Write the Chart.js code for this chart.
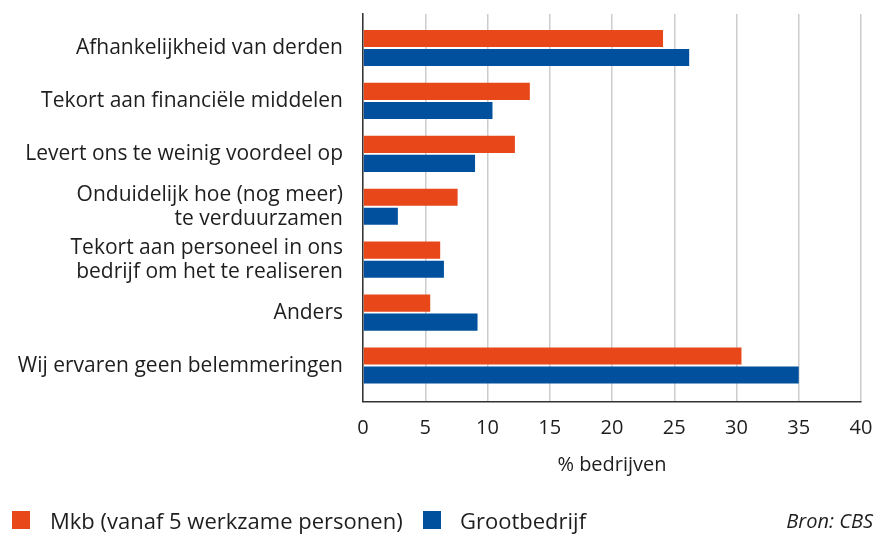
<!DOCTYPE html>
<html>
<head>
<meta charset="utf-8">
<script src="https://cdn.jsdelivr.net/npm/chart.js@4.4.1/dist/chart.umd.min.js"></script>
<style>
  html, body { margin: 0; padding: 0; background: #fff; }
  .wrap { position: relative; width: 877px; height: 534px; }
  .legend { position: absolute; left: 0; top: 0; width: 877px; height: 534px; pointer-events: none;
    font-family: "Open Sans", sans-serif; color: #1e1e1e; }
  .legend .box { position: absolute; top: 511px; width: 18px; height: 18px; }
  .legend .txt { position: absolute; top: 508.5px; font-size: 22px; line-height: 22px; white-space: nowrap; }
  .legend .src { position: absolute; right: 4px; top: 511px; font-size: 20px; line-height: 20px;
    font-style: italic; white-space: nowrap; }
</style>
</head>
<body>
<div class="wrap">
  <canvas id="myChart" width="877" height="534"></canvas>
  <div class="legend" id="legend"></div>
</div>
<script>
// categories (top to bottom)
const categories = [
  "Afhankelijkheid van derden",
  "Tekort aan financiële middelen",
  "Levert ons te weinig voordeel op",
  ["Onduidelijk hoe (nog meer)", "te verduurzamen"],
  ["Tekort aan personeel in ons", "bedrijf om het te realiseren"],
  "Anders",
  "Wij ervaren geen belemmeringen"
];

// % bedrijven
const mkbValues = [24.1, 13.4, 12.2, 7.6, 6.2, 5.4, 30.4];
const grootValues = [26.2, 10.4, 9.0, 2.8, 6.5, 9.2, 35.0];

const seriesNames = ["Mkb (vanaf 5 werkzame personen)", "Grootbedrijf"];
const seriesColors = ["#e8471a", "#00509e"];
const xTicks = [0, 5, 10, 15, 20, 25, 30, 35, 40];
const axisTitle = "% bedrijven";
const sourceText = "Bron: CBS";

const labelFont = "'Open Sans', 'Noto Sans', sans-serif";
const textColor = "#1e1e1e";

const ctx = document.getElementById("myChart");

const chart = new Chart(ctx, {
  type: "bar",
  data: {
    datasets: [mkbValues, grootValues].map((values, i) => ({
      label: seriesNames[i],
      data: values.map((v, j) => ({ x: v, y: j })),
      backgroundColor: seriesColors[i],
      categoryPercentage: 0.72,
      barPercentage: 0.9,
    })),
  },
  options: {
    responsive: false,
    animation: false,
    indexAxis: "y",
    layout: { padding: { top: 14, right: 16, left: 0, bottom: 56.5 } },
    plugins: {
      tooltip: { enabled: false },
      legend: { display: false },
    },
    scales: {
      x: {
        type: "linear",
        min: 0,
        max: 40,
        afterBuildTicks: (scale) => {
          scale.ticks = xTicks.map((v) => ({ value: v }));
        },
        afterFit: (scale) => {
          scale.height = 76;
          scale.paddingRight = 0;
        },
        grid: { color: "#cccccc", lineWidth: 1.5, drawTicks: false },
        border: { color: "#333333", width: 1.5 },
        ticks: {
          padding: 15,
          color: textColor,
          font: { family: labelFont, size: 20 },
        },
        title: {
          display: true,
          text: axisTitle,
          color: textColor,
          padding: { top: 0, bottom: 0 },
          font: { family: labelFont, size: 20 },
        },
      },
      y: {
        type: "linear",
        reverse: true,
        offset: false,
        min: -0.643,
        max: 6.68,
        afterBuildTicks: (scale) => {
          scale.ticks = categories.map((c, i) => ({ value: i }));
        },
        afterFit: (scale) => {
          scale.width = 363;
          scale.paddingTop = 0;
          scale.paddingBottom = 0;
        },
        grid: { display: false, drawTicks: false },
        border: { color: "#333333", width: 1.5 },
        ticks: {
          padding: 20,
          color: textColor,
          font: { family: labelFont, size: 21, lineHeight: 1.15 },
          callback: (value) => categories[value],
        },
      },
    },
  },
});

// legend below the chart, same colours as the datasets
const legendEl = document.getElementById("legend");
const legendPos = [{ box: 12, txt: 50 }, { box: 423, txt: 460 }];
chart.data.datasets.forEach((ds, i) => {
  const box = document.createElement("div");
  box.className = "box";
  box.style.left = legendPos[i].box + "px";
  box.style.background = ds.backgroundColor;
  legendEl.appendChild(box);
  const txt = document.createElement("div");
  txt.className = "txt";
  txt.style.left = legendPos[i].txt + "px";
  txt.textContent = ds.label;
  legendEl.appendChild(txt);
});
const src = document.createElement("div");
src.className = "src";
src.textContent = sourceText;
legendEl.appendChild(src);
</script>
</body>
</html>
